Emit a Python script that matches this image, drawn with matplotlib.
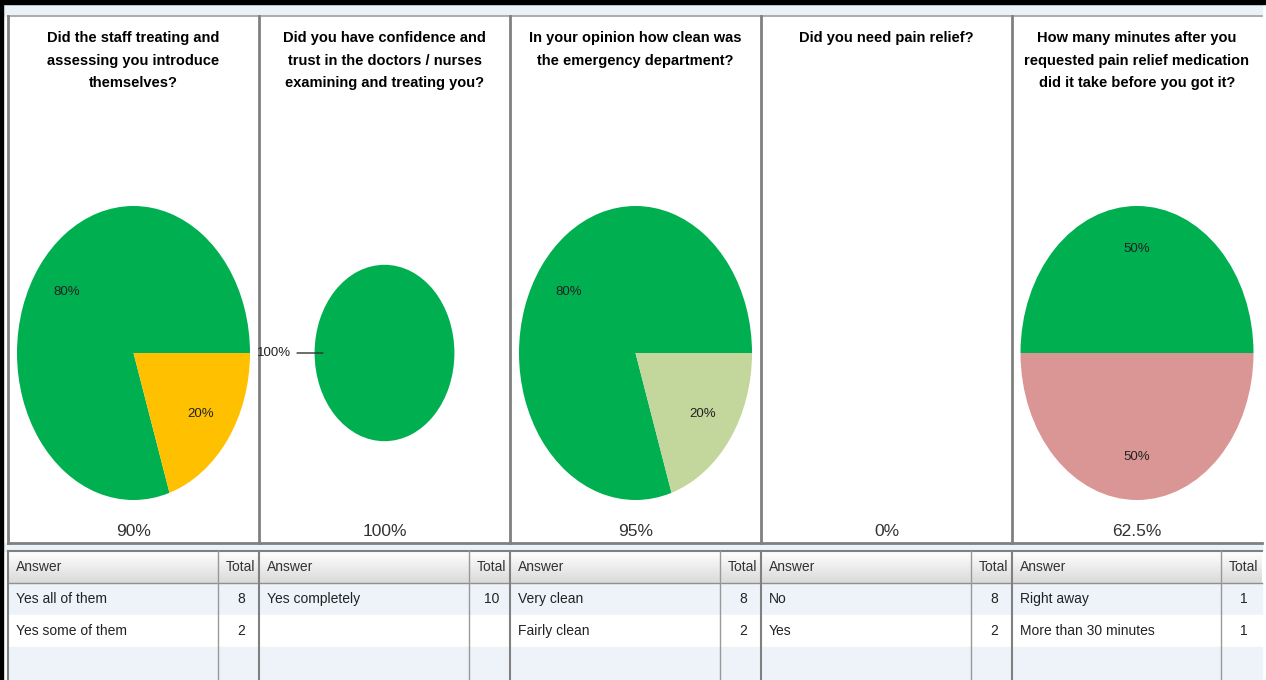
import numpy as np
import matplotlib
matplotlib.use('Agg')
import matplotlib.pyplot as plt
from matplotlib.patches import Rectangle
from matplotlib.colors import LinearSegmentedColormap

questions = ['Did the staff treating and\nassessing you introduce\nthemselves?',
             'Did you have confidence and\ntrust in the doctors / nurses\nexamining and treating you?',
             'In your opinion how clean was\nthe emergency department?',
             'Did you need pain relief?',
             'How many minutes after you\nrequested pain relief medication\ndid it take before you got it?']
answers = [['Yes all of them', 'Yes some of them'],
           ['Yes completely'],
           ['Very clean', 'Fairly clean'],
           ['No', 'Yes'],
           ['Right away', 'More than 30 minutes']]
totals = [[8, 2], [10], [8, 2], [8, 2], [1, 1]]
pie_values = [[8, 2], [10], [8, 2], [], [1, 1]]
pie_colors = [['#00AF50', '#FFC000'], ['#00AF50'], ['#00AF50', '#C3D69B'], [], ['#00AF50', '#D99694']]
scores = ['90%', '100%', '95%', '0%', '62.5%']

W, H = 1266, 680
narrow = ['Liberation Sans Narrow', 'Liberation Sans', 'DejaVu Sans']
bold = ['Liberation Sans', 'DejaVu Sans']

fig = plt.figure(figsize=(W / 100, H / 100), dpi=100)
bg = fig.add_axes([0, 0, 1, 1])
bg.axis('off')

edges = [8, 259, 510, 761, 1012, 1262]
grey = '#808080'

# background strips
bg.add_patch(Rectangle((0, 0), W, H, color='white', zorder=0))
bg.add_patch(Rectangle((3, 4), 1259, 12, color='#EAF1F7', zorder=1))
bg.add_patch(Rectangle((3, 543), 1259, 8, color='#EAF3F9', zorder=1))

# table rows
row_tops = [583, 615, 647]
row_cols = ['#EEF3FA', 'white', '#EEF3FA']
for rt, rc in zip(row_tops, row_cols):
    bg.add_patch(Rectangle((edges[0], rt), edges[-1] - edges[0], 33, color=rc, zorder=1))

# header gradient
cmap = LinearSegmentedColormap.from_list('hdr', ['#FFFFFF', '#DADADA'])
grad = np.linspace(0, 1, 32).reshape(-1, 1)
bg.imshow(grad, cmap=cmap, aspect='auto', extent=(edges[0], edges[-1], 583, 551), zorder=1)

# black frame
bg.add_patch(Rectangle((0, 0), W, 4, color='black', zorder=5))
bg.add_patch(Rectangle((0, 0), 3, H, color='black', zorder=5))

# panel lines
bg.plot([edges[0], edges[-1]], [16, 16], color='#A0A0A0', lw=1.2, zorder=3)
bg.plot([edges[0], edges[-1]], [542.5, 542.5], color=grey, lw=2, zorder=3)
bg.plot([edges[0], edges[-1]], [551, 551], color=grey, lw=1.5, zorder=3)
bg.plot([edges[0], edges[-1]], [583, 583], color='#909090', lw=1, zorder=3)
for x in edges[:-1]:
    bg.plot([x, x], [16, 542.5], color=grey, lw=2, zorder=3)
    bg.plot([x, x], [551, H], color=grey, lw=1.5, zorder=3)

for i in range(5):
    left, right = edges[i], edges[i + 1]
    cx = (left + right) / 2
    bg.text(cx, 31, questions[i], ha='center', va='top', fontsize=10.5,
            fontweight='bold', family=bold, linespacing=1.78, color='#000000', zorder=4)
    bg.text(cx, 531, scores[i], ha='center', va='center', fontsize=12.5,
            family=narrow, color='#333333', zorder=4)

    split = right - 41
    bg.plot([split, split], [551, H], color='#999999', lw=1, zorder=3)
    bg.text(left + 8, 567, 'Answer', ha='left', va='center', fontsize=10,
            family=narrow, color='#333333', zorder=4)
    bg.text(right - 4, 567, 'Total', ha='right', va='center', fontsize=10,
            family=narrow, color='#333333', zorder=4)
    for j, (a, t) in enumerate(zip(answers[i], totals[i])):
        y = 599 + 32 * j
        bg.text(left + 8, y, a, ha='left', va='center', fontsize=10,
                family=narrow, color='#222222', zorder=4)
        bg.text(right - 18, y, str(t), ha='center', va='center', fontsize=10,
                family=narrow, color='#222222', zorder=4)

    # pie
    if pie_values[i]:
        scale = 0.6 if len(pie_values[i]) == 1 else 1.0
        rx, ry = 116.5 * scale, 147 * scale
        cy = 353
        ax = fig.add_axes([(cx - rx) / W, 1 - (cy + ry) / H, 2 * rx / W, 2 * ry / H])
        if len(pie_values[i]) > 1:
            ax.pie(pie_values[i], colors=pie_colors[i], startangle=0,
                   autopct='%1.0f%%', pctdistance=0.71,
                   wedgeprops=dict(linewidth=0),
                   textprops=dict(fontsize=9.5, family=narrow, color='#222222'))
        else:
            ax.pie(pie_values[i], colors=pie_colors[i], wedgeprops=dict(linewidth=0))
            ax.annotate('100%', xy=(-0.88, 0), xytext=(-1.33, 0), ha='right', va='center',
                        fontsize=9.5, family=narrow, color='#222222', annotation_clip=False,
                        arrowprops=dict(arrowstyle='-', color='#333333', lw=1, shrinkA=2, shrinkB=0))
        ax.set_aspect('auto')
        ax.set_xlim(-1, 1)
        ax.set_ylim(-1, 1)
        ax.axis('off')

bg.set_xlim(0, W)
bg.set_ylim(H, 0)

fig.savefig('out.png', dpi=100)
